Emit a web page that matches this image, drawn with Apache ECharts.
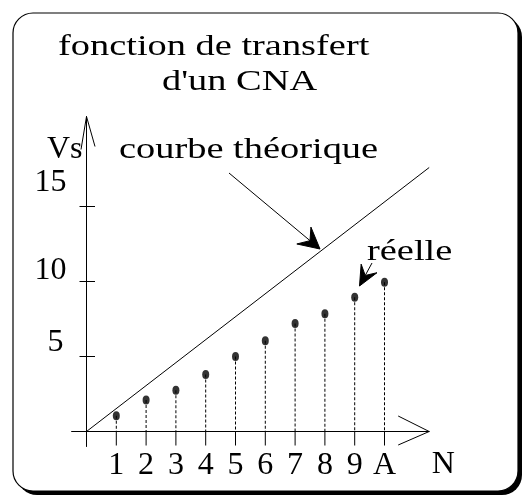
<!DOCTYPE html>
<html><head><meta charset="utf-8">
<script src="https://cdn.jsdelivr.net/npm/echarts@6/dist/echarts.min.js"></script>
<style>html,body{margin:0;padding:0;background:#fff}#c{width:524px;height:495px}</style>
</head><body><div id="c"></div>
<script>
// ---- data ----
const codes = [1, 2, 3, 4, 5, 6, 7, 8, 9, 10];
const codeLabels = ['1', '2', '3', '4', '5', '6', '7', '8', '9', 'A'];
const realValues = [1.05, 2.1, 2.75, 3.8, 5.0, 6.05, 7.2, 7.85, 8.95, 9.95];
const theoryN = [0, 11.5];
const theoryVs = [0, 17.6];
const yTickValues = [5, 10, 15];
const yTickLabels = ['5', '10', '15'];
const titleLines = ['fonction de transfert', "d'un CNA"];
const xName = 'N';
const yName = 'Vs';
const annTheory = 'courbe théorique';
const annReal = 'réelle';

// ---- styling ----
const FONT = '"Liberation Serif","Times New Roman",serif';
const FS = 30;
const AFS = 32;
const SX = 1.28;

const chart = echarts.init(document.getElementById('c'), null, {renderer: 'canvas'});

function txt(str, left, baseline) {
  return {type: 'text', x: left, y: baseline - 10, scaleX: SX, z: 100,
    style: {text: str, x: 0, y: 0, fontSize: FS, fontFamily: FONT, fill: '#000',
      align: 'left', verticalAlign: 'middle'}};
}
function arrow(start, tip, back, half, inner) {
  const dx = tip[0] - start[0], dy = tip[1] - start[1];
  const L = Math.hypot(dx, dy), ux = dx / L, uy = dy / L, px = -uy, py = ux;
  const b = [tip[0] - ux * back, tip[1] - uy * back];
  const inn = [tip[0] - ux * inner, tip[1] - uy * inner];
  return [
    {type: 'polyline', z: 100, shape: {points: [start, inn]}, style: {stroke: '#000', lineWidth: 1, fill: null}},
    {type: 'polygon', z: 100, shape: {points: [tip, [b[0] + px * half, b[1] + py * half], inn, [b[0] - px * half, b[1] - py * half]]},
      style: {fill: '#000', stroke: '#000', lineWidth: 1}}
  ];
}

const stemData = codes.map((n, i) => [n, realValues[i]]);

const option = {
  animation: false,
  backgroundColor: '#fff',
  grid: {left: 71.6, top: 116.5, width: 357.6, height: 330, containLabel: false},
  xAxis: {
    type: 'value', min: -0.5, max: 11.5, interval: 0.5,
    axisLine: {show: true, onZero: true, lineStyle: {color: '#000', width: 1}},
    axisTick: {show: false}, splitLine: {show: false},
    axisLabel: {
      margin: 3, fontSize: AFS, fontFamily: FONT, color: '#000',
      showMinLabel: false, showMaxLabel: false,
      formatter: v => { const i = codes.indexOf(v); return i < 0 ? '' : codeLabels[i]; }
    },
    name: xName, nameLocation: 'end', nameGap: 14,
    nameTextStyle: {fontSize: AFS, fontFamily: FONT, color: '#000', align: 'center', verticalAlign: 'top', padding: [17, 0, 0, 0]}
  },
  yAxis: {
    type: 'value', min: -1, max: 21, interval: 1,
    axisLine: {show: true, onZero: true, lineStyle: {color: '#000', width: 1}},
    axisTick: {show: false}, splitLine: {show: false},
    axisLabel: {
      margin: 5, fontSize: AFS, fontFamily: FONT, color: '#000',
      showMinLabel: false, showMaxLabel: false,
      formatter: v => { const i = yTickValues.indexOf(v); return i < 0 ? '' : '{l' + i + '|' + yTickLabels[i] + '}'; },
      rich: {
        l0: {fontSize: AFS, fontFamily: FONT, color: '#000', padding: [0, 3, 27, 0]},
        l1: {fontSize: AFS, fontFamily: FONT, color: '#000', padding: [0, 0, 21, 0]},
        l2: {fontSize: AFS, fontFamily: FONT, color: '#000', padding: [0, 0, 48, 0]}
      }
    },
    name: yName, nameLocation: 'end', nameGap: -33.5,
    nameTextStyle: {fontSize: AFS, fontFamily: FONT, color: '#000', align: 'right', verticalAlign: 'middle', padding: [0, 4, 0, 0]}
  },
  graphic: [
    {type: 'rect', z: -3, shape: {x: 17, y: 17, width: 505, height: 478, r: 20}, style: {fill: '#000'}},
    {type: 'rect', z: -2, shape: {x: 13, y: 13, width: 505, height: 478, r: 20}, style: {fill: '#fff', stroke: '#000', lineWidth: 1.2}},
    txt(titleLines[0], 58, 57),
    txt(titleLines[1], 162, 92),
    txt(annTheory, 119, 160),
    txt(annReal, 367, 262),
    ...arrow([229, 173], [320, 249], 21, 11, 13),
    ...arrow([372, 263], [359.5, 286], 20, 9, 12)
  ],
  series: [
    {
      type: 'line', data: theoryN.map((n, i) => [n, theoryVs[i]]),
      symbol: 'none', lineStyle: {color: '#000', width: 1}, z: 3
    },
    {
      type: 'custom', z: 3,
      data: stemData,
      renderItem: (params, api) => {
        const p = api.coord([api.value(0), api.value(1)]);
        const o = api.coord([api.value(0), 0]);
        return {type: 'group', children: [
          {type: 'line', shape: {x1: p[0], y1: p[1], x2: o[0], y2: o[1]}, style: {stroke: '#000', lineWidth: 1, lineDash: [3, 2]}},
          {type: 'line', shape: {x1: o[0], y1: o[1], x2: o[0], y2: o[1] + 14}, style: {stroke: '#000', lineWidth: 1}}
        ]};
      }
    },
    {
      type: 'scatter', z: 4, data: stemData, symbol: 'circle', symbolSize: [7, 9],
      itemStyle: {color: '#000'}
    },
    {
      type: 'custom', z: 3,
      data: yTickValues.map(v => [0, v]),
      renderItem: (params, api) => {
        const p = api.coord([api.value(0), api.value(1)]);
        return {type: 'line', shape: {x1: p[0] - 7, y1: p[1], x2: p[0] + 8.5, y2: p[1]}, style: {stroke: '#000', lineWidth: 1}};
      }
    },
    {
      type: 'custom', z: 3,
      data: [[0, 21, 0], [11.5, 0, 1]],
      renderItem: (params, api) => {
        const t = api.coord([api.value(0), api.value(1)]);
        const pts = api.value(2) === 0
          ? [[t[0] - 5.5, t[1] + 33], t, [t[0] + 8.5, t[1] + 30]]
          : [[t[0] - 31, t[1] - 15.5], t, [t[0] - 31, t[1] + 13.5]];
        return {type: 'polyline', shape: {points: pts}, style: {stroke: '#000', lineWidth: 1, fill: null}};
      }
    }
  ]
};
chart.setOption(option);
</script>
</body></html>
